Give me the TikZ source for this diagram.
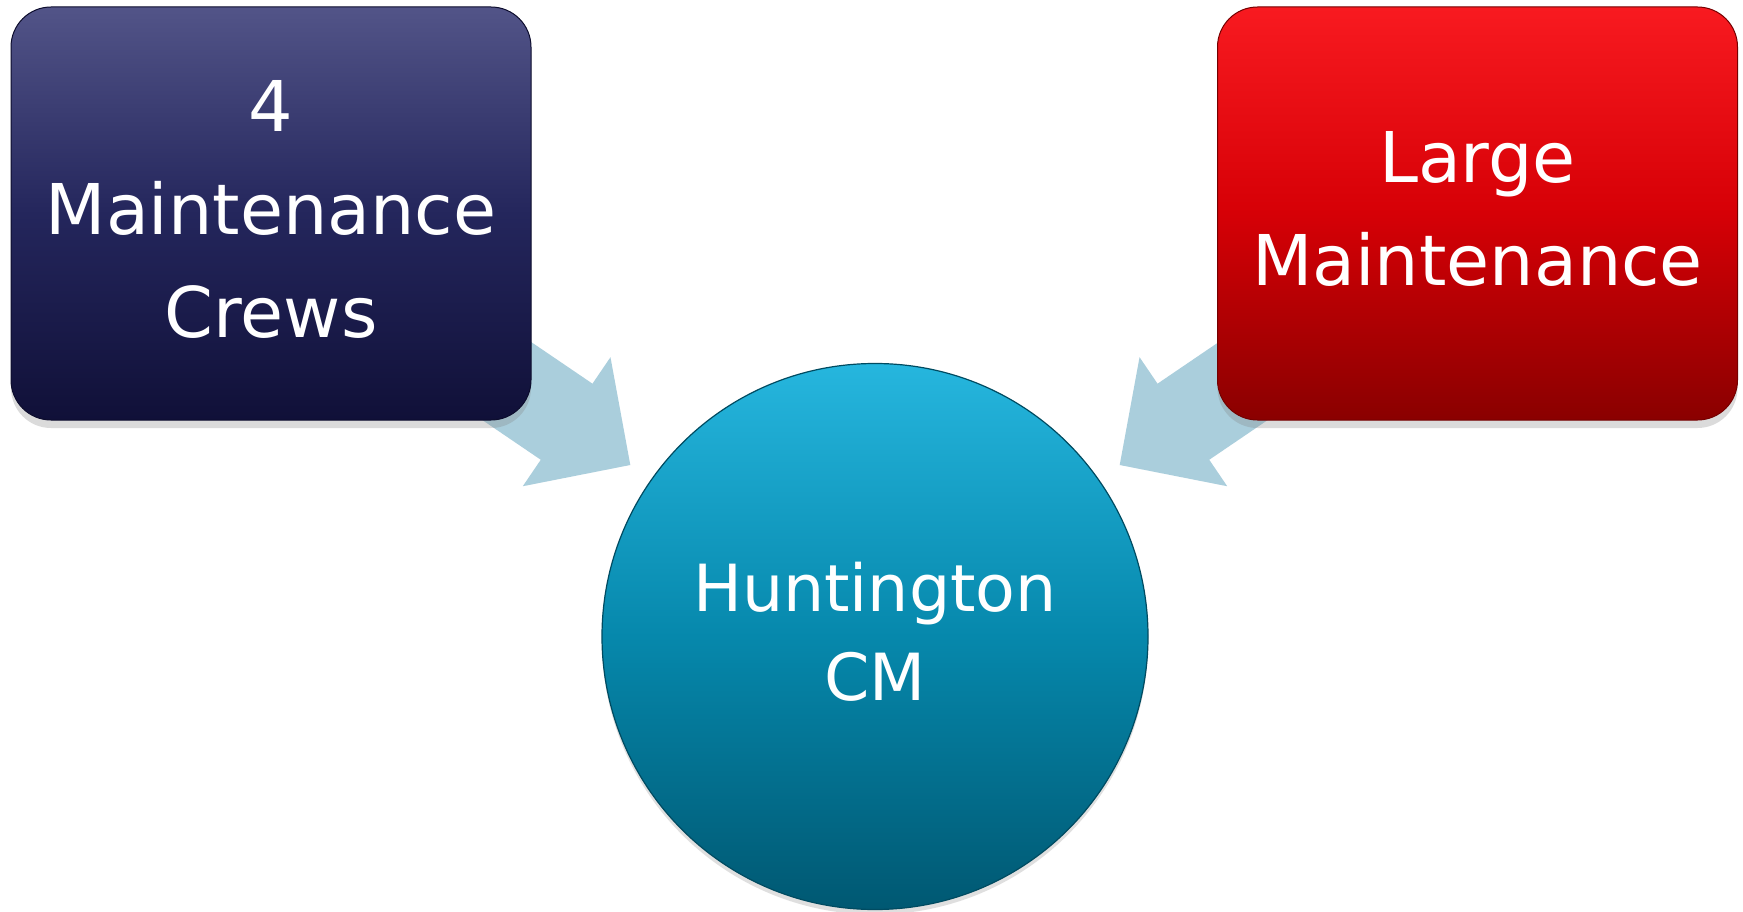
\documentclass[tikz,border=0pt]{standalone}
\usepackage{fontspec}
\setmainfont{DejaVu Sans}
\usetikzlibrary{shadows,calc,backgrounds}
\definecolor{navyTop}{RGB}{82,84,136}
\definecolor{navyMid}{RGB}{36,38,92}
\definecolor{navyBot}{RGB}{16,16,56}
\definecolor{redTop}{RGB}{248,26,32}
\definecolor{redMid}{RGB}{214,0,6}
\definecolor{redBot}{RGB}{138,0,0}
\definecolor{tealTop}{RGB}{38,182,222}
\definecolor{tealMid}{RGB}{6,136,172}
\definecolor{tealBot}{RGB}{0,88,114}
\definecolor{arrowBlue}{RGB}{170,206,220}
\newcommand{\liftup}[2]{\raisebox{0pt}[\height][\dimexpr\depth+#1\relax]{#2}}
\begin{document}
\begin{tikzpicture}[x=1pt,y=-1pt,
  boxnode/.style={rounded corners=40pt, minimum width=520pt, minimum height=413pt,
    inner sep=0pt, outer sep=0pt, align=center, text=white,
    font=\fontsize{70}{103}\selectfont, line width=1pt,
    drop shadow={shadow xshift=0pt,shadow yshift=-8pt,opacity=0.28}},
  navybox/.style={boxnode, top color=navyTop, bottom color=navyBot, middle color=navyMid, draw=navyBot!80!black},
  redbox/.style={boxnode, top color=redTop, bottom color=redBot, middle color=redMid, draw=redBot!85!black},
  hubnode/.style={circle, minimum size=546pt, inner sep=0pt, outer sep=0pt, align=center,
    text=white, font=\fontsize{65}{89}\selectfont, line width=1.2pt,
    top color=tealTop, bottom color=tealBot, middle color=tealMid, draw=tealBot!85!black,
    drop shadow={shadow xshift=0pt,shadow yshift=-5pt,opacity=0.25}},
  blockarrow/.style={fill=arrowBlue}
]
\useasboundingbox (0,0) rectangle (1743,912);

\node[navybox] (crews) at (271,213.5) {\liftup{9pt}{\parbox{500pt}{\centering 4\\Maintenance\\Crews}}};
\node[redbox] (large) at (1477.5,213.5) {\liftup{9pt}{\parbox{500pt}{\centering Large\\Maintenance}}};
\node[hubnode] (hub) at (875,636.5) {\liftup{10pt}{\parbox{500pt}{\centering Huntington\\CM}}};

\begin{scope}[on background layer]
  \fill[white] (0,0) rectangle (1743,912);
  \coordinate (tipL) at ($(hub.center)+(-244.7,-171.5)$);
  \coordinate (tipR) at ($(hub.center)+(244.7,-171.5)$);
  \begin{scope}[shift={(tipL)}, rotate=-34.2]
    \fill[blockarrow] (0,0) -- (-77,78) -- (-77,46) -- (-260,46) -- (-260,-46)
      -- (-77,-46) -- (-77,-78) -- cycle;
  \end{scope}
  \begin{scope}[shift={(tipR)}, rotate=214.2]
    \fill[blockarrow] (0,0) -- (-77,78) -- (-77,46) -- (-260,46) -- (-260,-46)
      -- (-77,-46) -- (-77,-78) -- cycle;
  \end{scope}
\end{scope}
\end{tikzpicture}
\end{document}
